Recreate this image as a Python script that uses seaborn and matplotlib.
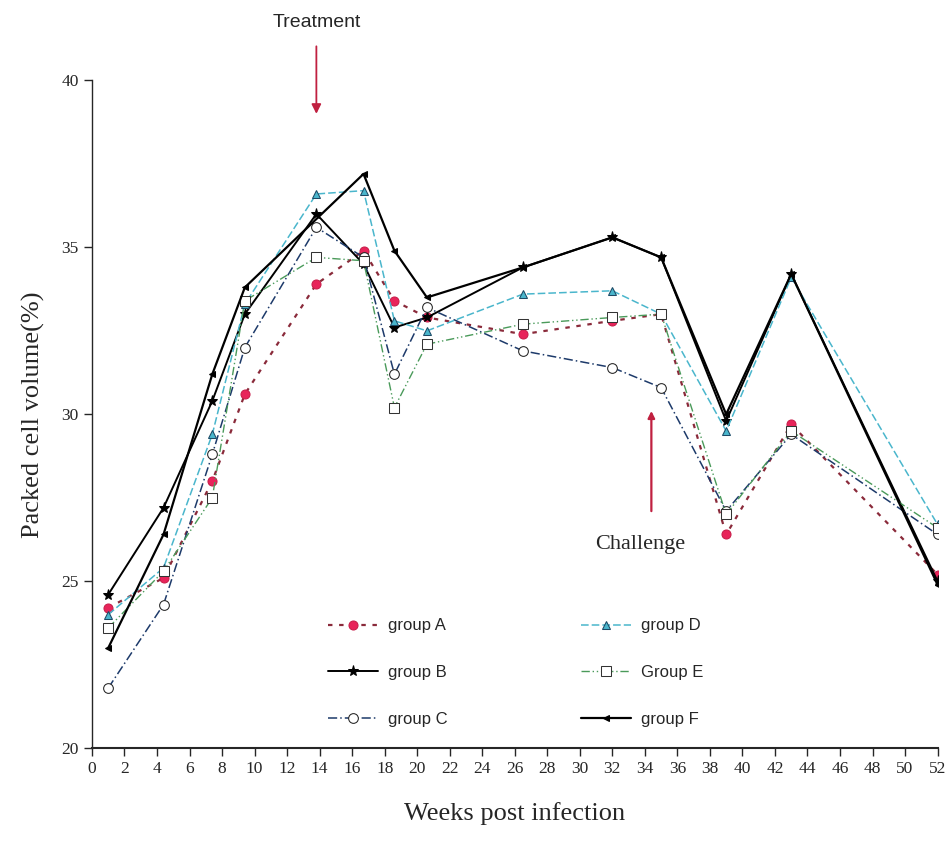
import numpy as np
import pandas as pd
import matplotlib
matplotlib.use("Agg")
import matplotlib.pyplot as plt
import seaborn as sns

sns.set_style("ticks")
plt.rcParams["font.family"] = ["Liberation Serif", "DejaVu Serif"]

# weeks post infection for each group
weeks_A = [1, 4.4, 7.4, 9.4, 13.8, 16.7, 18.6, 20.6, 26.5, 32, 35, 39, 43, 52]
pcv_A = [24.2, 25.1, 28.0, 30.6, 33.9, 34.9, 33.4, 32.9, 32.4, 32.8, 33.0, 26.4, 29.7, 25.2]

weeks_B = [1, 4.4, 7.4, 9.4, 13.8, 16.7, 18.6, 20.6, 26.5, 32, 35, 39, 43, 52]
pcv_B = [24.6, 27.2, 30.4, 33.0, 36.0, 34.5, 32.6, 32.9, 34.4, 35.3, 34.7, 29.8, 34.2, 25.0]

weeks_C = [1, 4.4, 7.4, 9.4, 13.8, 16.7, 18.6, 20.6, 26.5, 32, 35, 39, 43, 52]
pcv_C = [21.8, 24.3, 28.8, 32.0, 35.6, 34.7, 31.2, 33.2, 31.9, 31.4, 30.8, 27.1, 29.4, 26.4]

weeks_D = [1, 4.4, 7.4, 9.4, 13.8, 16.7, 18.6, 20.6, 26.5, 32, 35, 39, 43, 52]
pcv_D = [24.0, 25.4, 29.4, 33.3, 36.6, 36.7, 32.8, 32.5, 33.6, 33.7, 33.0, 29.5, 34.1, 26.7]

weeks_E = [1, 4.4, 7.4, 9.4, 13.8, 16.7, 18.6, 20.6, 26.5, 32, 35, 39, 43, 52]
pcv_E = [23.6, 25.3, 27.5, 33.4, 34.7, 34.6, 30.2, 32.1, 32.7, 32.9, 33.0, 27.0, 29.5, 26.6]

weeks_F = [1, 4.4, 7.4, 9.4, 16.7, 18.6, 20.6, 26.5, 32, 35, 39, 43, 52]
pcv_F = [23.0, 26.4, 31.2, 33.8, 37.2, 34.9, 33.5, 34.4, 35.3, 34.7, 30.0, 34.2, 24.9]

labels = ["group A", "group B", "group C", "group D", "Group E", "group F"]
x_ticks = list(range(0, 53, 2))
y_ticks = [20, 25, 30, 35, 40]

series = [
    (weeks_A, pcv_A, dict(color="#8a2a3a", linestyle=(0, (2, 3)), lw=1.6, marker="o",
                          markersize=6.5, markerfacecolor="#e8245a", markeredgecolor="#c81e4a")),
    (weeks_B, pcv_B, dict(color="black", linestyle="-", lw=1.4, marker="*",
                          markersize=8, markerfacecolor="black", markeredgecolor="black")),
    (weeks_C, pcv_C, dict(color="#1d3a6a", linestyle=(0, (6, 2, 1, 2)), lw=1.1, marker="o",
                          markersize=7, markerfacecolor="white", markeredgecolor="#222222")),
    (weeks_D, pcv_D, dict(color="#4ab6cc", linestyle=(0, (5, 2)), lw=1.1, marker="^",
                          markersize=5.5, markerfacecolor="#4ab6cc", markeredgecolor="#1d4a66")),
    (weeks_E, pcv_E, dict(color="#4a9a5a", linestyle=(0, (6, 2, 1, 2, 1, 2)), lw=1.0, marker="s",
                          markersize=6.5, markerfacecolor="white", markeredgecolor="#333333")),
    (weeks_F, pcv_F, dict(color="black", linestyle="-", lw=1.6, marker="<",
                          markersize=4, markerfacecolor="black", markeredgecolor="black")),
]

fig = plt.figure(figsize=(9.48, 8.56), dpi=100)
ax = fig.add_axes([0.097, 0.126, 0.892, 0.78])

for (wx, wy, style), lab in zip(series, labels):
    sns.lineplot(x=wx, y=wy, ax=ax, label=lab, sort=False, **style)

ax.set_xlim(0, 52)
ax.set_ylim(20, 40)
ax.set_xticks(x_ticks)
ax.set_yticks(y_ticks)
ax.tick_params(axis="both", direction="out", length=6, width=1, labelsize=12.5)
sns.despine(ax=ax)
ax.spines["left"].set_linestyle((0, (4, 1)))
ax.spines["left"].set_linewidth(1.0)
ax.spines["bottom"].set_linewidth(1.5)

ax.set_xlabel("Weeks post infection", fontsize=19, labelpad=18)
ax.set_ylabel("Packed cell volume(%)", fontsize=19, labelpad=12)

leg = ax.legend(ncol=2, frameon=False, loc="upper left",
                bbox_to_anchor=(0.33, 0.295), bbox_transform=fig.transFigure,
                prop={"family": "Liberation Sans", "size": 12},
                labelspacing=1.9, columnspacing=8, handlelength=3.0, handletextpad=0.6)

# treatment / challenge markers
ax.annotate("Treatment", xy=(13.8, 39.0), xytext=(13.8, 41.75),
            ha="center", va="center", fontsize=14, family="Liberation Sans",
            annotation_clip=False,
            arrowprops=dict(arrowstyle="-|>", color="#c02040", lw=1.3, shrinkA=9, shrinkB=0))
ax.annotate("", xy=(34.4, 30.1), xytext=(34.4, 27.1),
            arrowprops=dict(arrowstyle="-|>", color="#c02040", lw=1.6, shrinkA=0, shrinkB=0))
ax.text(33.7, 26.1, "Challenge", ha="center", va="center", fontsize=16)

fig.savefig("out.png", dpi=100)
